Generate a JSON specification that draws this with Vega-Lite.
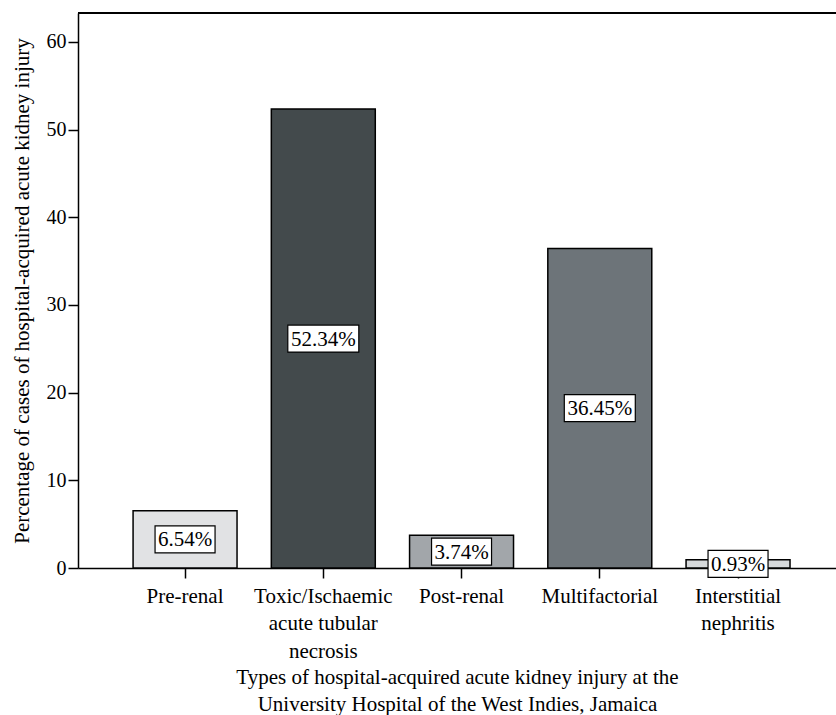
{
  "$schema": "https://vega.github.io/schema/vega-lite/v6.json",
  "autosize": {"type": "none"},
  "width": 758,
  "height": 555,
  "padding": {"left": 78, "top": 13, "right": 0, "bottom": 147},
  "background": "white",
  "config": {
    "view": {"stroke": null},
    "font": "Liberation Serif",
    "axis": {"labelColor": "black", "titleColor": "black", "domainColor": "black", "tickColor": "black", "grid": false, "titleFontWeight": "normal", "labelFontSize": 21, "titleFontSize": 21}
  },
  "data": {"values": [
    {"type": "Pre-renal", "value": 6.54, "label": "6.54%"},
    {"type": "Toxic/Ischaemic acute tubular necrosis", "value": 52.34, "label": "52.34%"},
    {"type": "Post-renal", "value": 3.74, "label": "3.74%"},
    {"type": "Multifactorial", "value": 36.45, "label": "36.45%"},
    {"type": "Interstitial nephritis", "value": 0.93, "label": "0.93%"}
  ]},
  "resolve": {"scale": {"y": "independent"}},
  "encoding": {
    "x": {
      "field": "type", "type": "nominal", "sort": null,
      "scale": {"paddingInner": 0.248, "paddingOuter": 0.3655, "align": 0.545},
      "axis": {
        "labelFont": "Liberation Serif", "titleFont": "Liberation Serif",
        "labelAngle": 0, "tickSize": 10, "domainWidth": 1.5, "tickWidth": 1.5, "labelPadding": 7, "labelLineHeight": 27.5, "labelBaseline": "top",
        "labelExpr": "datum.label == 'Toxic/Ischaemic acute tubular necrosis' ? ['Toxic/Ischaemic', 'acute tubular', 'necrosis'] : datum.label == 'Interstitial nephritis' ? ['Interstitial', 'nephritis'] : datum.label",
        "title": ["Types of hospital-acquired acute kidney injury at the", "University Hospital of the West Indies, Jamaica"],
        "titleLineHeight": 27, "titlePadding": 5
      }
    }
  },
  "layer": [
    {
      "mark": {"type": "bar", "stroke": "black", "strokeWidth": 1.5},
      "encoding": {
        "y": {
          "field": "value", "type": "quantitative",
          "scale": {"domain": [0, 63.3], "nice": false},
          "axis": {"labelFont": "Liberation Serif", "titleFont": "Liberation Serif", "labelFontSize": 20, "values": [0, 10, 20, 30, 40, 50, 60], "tickSize": 10, "domainWidth": 1.5, "tickWidth": 1.5, "labelPadding": 2, "title": "Percentage of cases of hospital-acquired acute kidney injury", "titlePadding": 14}
        },
        "color": {
          "field": "type", "type": "nominal", "sort": null, "legend": null,
          "scale": {"domain": ["Pre-renal", "Toxic/Ischaemic acute tubular necrosis", "Post-renal", "Multifactorial", "Interstitial nephritis"], "range": ["#e1e2e4", "#434a4c", "#a2a6aa", "#6d7479", "#d6d9db"]}
        }
      }
    },
    {
      "mark": {"type": "rule", "color": "black", "strokeWidth": 1.5},
      "encoding": {
        "x": {"value": 0},
        "x2": {"value": 758},
        "y": {"datum": 63.3, "type": "quantitative", "scale": {"domain": [0, 63.3], "nice": false}, "axis": null}
      }
    },
    {
      "mark": {"type": "point", "filled": true, "fill": "white", "stroke": "black", "strokeWidth": 1.2, "opacity": 1, "size": 4},
      "encoding": {
        "y": {"field": "value", "type": "quantitative", "scale": {"domain": [0, 126.6], "nice": false}, "axis": null},
        "shape": {"condition": {"test": "datum.value >= 10", "value": "M-35.5,-13.5H35.5V13.5H-35.5Z"}, "value": "M-30,-13.5H30V13.5H-30Z"}
      }
    },
    {
      "mark": {"type": "text", "fontSize": 21, "font": "Liberation Serif", "color": "black", "baseline": "middle", "align": "center", "dy": 1},
      "encoding": {
        "y": {"field": "value", "type": "quantitative", "scale": {"domain": [0, 126.6], "nice": false}, "axis": null},
        "text": {"field": "label"}
      }
    }
  ]
}
